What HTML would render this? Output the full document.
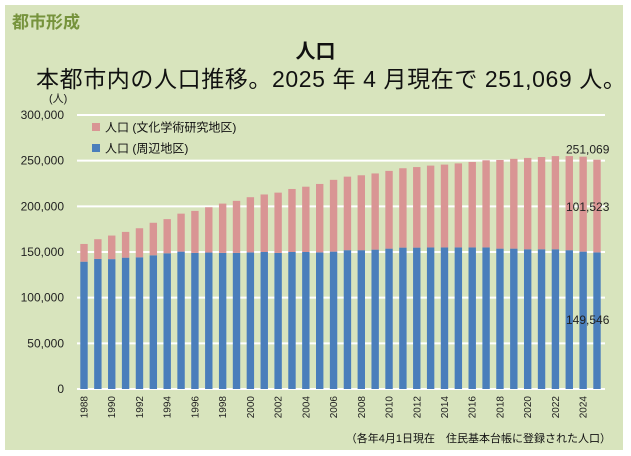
<!DOCTYPE html>
<html><head><meta charset="utf-8">
<style>
body{margin:0;width:631px;height:456px;background:#fff;overflow:hidden;font-family:"Liberation Sans","Noto Sans CJK JP",sans-serif;}
#panel{position:absolute;left:5px;top:5px;width:618px;height:445px;background:#d8e4bd;}
.t{position:absolute;white-space:nowrap;}
</style></head><body>
<div id="panel"></div>
<div class="t" style="left:12px;top:8px;font-size:17px;font-weight:bold;color:#76933c;">都市形成</div>
<div class="t" style="left:0;width:631px;text-align:center;top:35px;font-size:20px;font-weight:bold;color:#111;">人口</div>
<div class="t" style="left:36px;top:60px;font-size:23px;color:#111;letter-spacing:0.6px;">本都市内の人口推移。2025 年 4 月現在で 251,069 人。</div>
<svg id="chart" width="631" height="456" style="position:absolute;left:0;top:0"></svg>
<script>
const years=[1988,1989,1990,1991,1992,1993,1994,1995,1996,1997,1998,1999,2000,2001,2002,2003,2004,2005,2006,2007,2008,2009,2010,2011,2012,2013,2014,2015,2016,2017,2018,2019,2020,2021,2022,2023,2024,2025];
const blueVals=[139.4,142.4,142.2,143.8,144.2,146.4,148.6,150.4,149,149.4,149,149,149.6,150,149,150,150,149.6,150.4,152,152,152.6,153.7,154.8,154.8,155,155,155,155,155,153.7,153.7,153,153,153,152,150.4,149.546];
const totalVals=[158.8,164,168,172,176,182,186,192,195,199,203,206,210,213,215,219,221.5,224.5,229,232.5,234,236,238.8,241.7,243,244.6,245.7,247,248.6,250.4,250.8,252,253,254,255,255,254.4,251.069];
const redVals=totalVals.map((t,i)=>+(t-blueVals[i]).toFixed(3));
const yTicks=[0,50,100,150,200,250,300];
const yTickLabels=["0","50,000","100,000","150,000","200,000","250,000","300,000"];
const NS="http://www.w3.org/2000/svg";
const svg=document.getElementById('chart');
const y0=389,y300=115,x0=84,step=13.865,bw=7.4;
const yS=v=>y0-(v/300)*(y0-y300);
const xS=i=>x0+i*step;
function mk(tag,attrs,txt){const e=document.createElementNS(NS,tag);for(const k in attrs)e.setAttribute(k,attrs[k]);if(txt!=null)e.textContent=txt;svg.appendChild(e);return e;}
yTicks.forEach((v,i)=>{
 const l=mk('line',{x1:77,x2:605,y1:yS(v),y2:yS(v),stroke:'#fff','stroke-width':2});
 
 
 const t=mk('text',{x:64,y:yS(v)+4,'text-anchor':'end','font-size':12,fill:'#222'},yTickLabels[i]);
 
 
});
const u=mk('text',{x:49,y:102,'font-size':11,fill:'#222'},'(人)');


years.forEach((yr,i)=>{
 const b=mk('rect',{x:xS(i)-bw/2,y:yS(blueVals[i]),width:bw,height:y0-yS(blueVals[i]),fill:'#4a7ebb'});
 
 
 const r=mk('rect',{x:xS(i)-bw/2,y:yS(blueVals[i]+redVals[i]),width:bw,height:yS(blueVals[i])-yS(blueVals[i]+redVals[i]),fill:'#d99594'});
 
 
 if(yr%2===0){
  const t=mk('text',{x:0,y:0,'font-size':10,fill:'#222','text-anchor':'end',transform:`translate(${xS(i)+3.5},396) rotate(-90)`},String(yr));
  
  
 }
});
const li=[['#d99594','人口 (文化学術研究地区)',127],['#4a7ebb','人口 (周辺地区)',148]];
li.forEach(d=>{
 const s=mk('rect',{x:92,y:d[2]-4,width:8,height:8,fill:d[0]});
 
 
 const t=mk('text',{x:105,y:d[2]+4.5,'font-size':12,fill:'#111'},d[1]);
 
 
});
const last=years.length-1;
const fmt=v=>Math.round(v*1000).toLocaleString('en-US');
const a1=mk('text',{x:566,y:yS(totalVals[last])-6,'font-size':12,fill:'#222'},fmt(totalVals[last]));


const a2=mk('text',{x:566,y:211,'font-size':12,fill:'#222'},fmt(redVals[last]));


const a3=mk('text',{x:566,y:324,'font-size':12,fill:'#222'},fmt(blueVals[last]));


const fn=mk('text',{x:611,y:442,'text-anchor':'end','font-size':11,fill:'#111'},'（各年4月1日現在　住民基本台帳に登録された人口）');


</script>
</body></html>
